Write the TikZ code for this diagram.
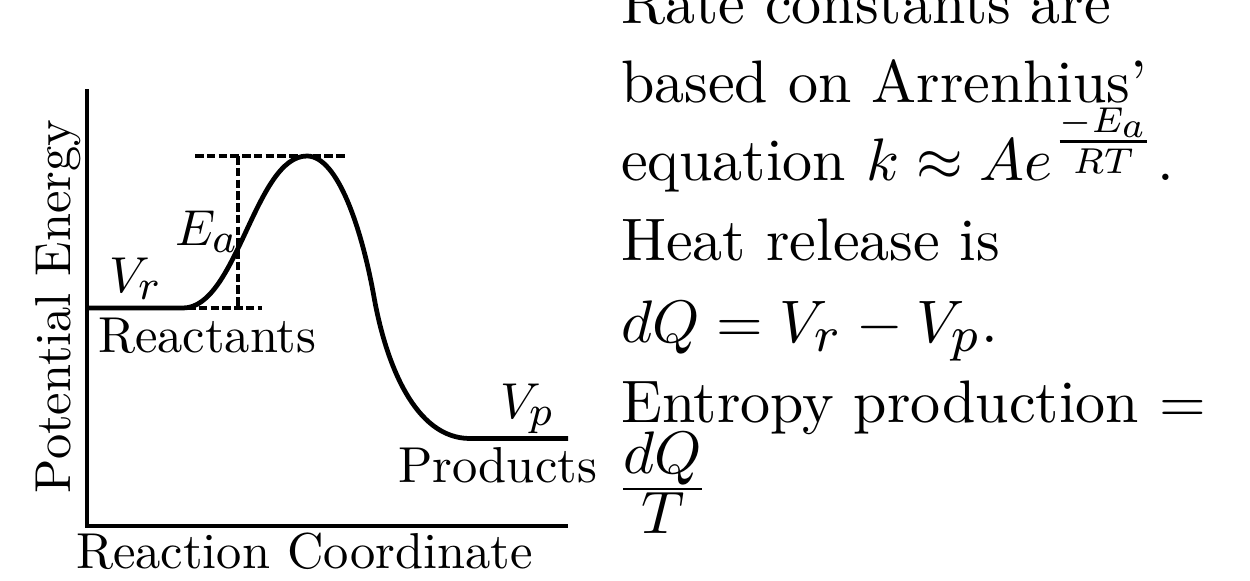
\RequirePackage{fix-cm}
\documentclass[tikz,border=0pt]{standalone}
\DeclareFontShape{OML}{cmm}{m}{it}{<-7.5>cmmi7 <7.5-9.5>cmmi8 <9.5->cmmi10}{\skewchar\font=127}
\DeclareFontShape{OMS}{cmsy}{m}{n}{<-7.5>cmsy7 <7.5-9.5>cmsy8 <9.5->cmsy10}{\skewchar\font=48}
\DeclareMathSizes{10}{10}{8.3}{6}
\begin{document}
\begin{tikzpicture}[x=0.4pt,y=-0.4pt,
  axisline/.style={line width=1.7pt},
  pecurve/.style={line width=1.9pt, line join=round},
  guide/.style={line width=1.8pt, dash pattern=on 3.4pt off 1.3pt},
  lbl/.style={inner sep=0pt, scale=2.02, font=\fontsize{10}{12}\selectfont},
  txt/.style={inner sep=0pt, anchor=base west, scale=2.4, font=\fontsize{10}{12}\selectfont}]
\useasboundingbox (0,0) rectangle (1250,580);
\clip (0,0) rectangle (1250,580);
% axes
\coordinate (ytop) at (87,89);
\coordinate (orig) at (87,526);
\coordinate (xend) at (568,526);
\draw[axisline] (ytop) -- (orig) -- (xend);
% energy curve
\coordinate (r0) at (87,308);
\coordinate (r1) at (183,308);
\coordinate (pk) at (307,156);
\coordinate (inf) at (374,297);
\coordinate (p0) at (470,438.5);
\coordinate (p1) at (568,438.5);
\draw[pecurve] (r0) -- (r1) .. controls (237,308) and (255,156) .. (pk)
  .. controls (338,156) and (362,230) .. (inf)
  .. controls (386,364) and (415,438.5) .. (p0) -- (p1);
% guides
\coordinate (tA) at (195,156);
\coordinate (tB) at (347,156);
\coordinate (vA) at (238,156);
\coordinate (vB) at (238,308);
\coordinate (bA) at (187,308);
\coordinate (bB) at (262,308);
\draw[guide] (tA) -- (tB);
\draw[guide] (vA) -- (vB);
\draw[guide] (bA) -- (bB);
% labels
\node[lbl, anchor=base west] (vr) at (108,292) {$V_r$};
\node[lbl, anchor=base west] (ea) at (174,245) {$E_a$};
\node[lbl, anchor=base west] (react) at (97,352) {Reactants};
\node[lbl, anchor=base west] (vp) at (499,418) {$V_p$};
\node[lbl, anchor=base east] (prod) at (598,482) {Products};
\node[lbl, anchor=base west] (xlab) at (75,568) {Reaction Coordinate};
\node[lbl, anchor=base west, rotate=90] (ylab) at (70,494) {Potential Energy};
% text
\node[txt] (l1) at (620,23) {Rate constants are};
\node[txt] (l2) at (620,102) {based on Arrenhius'};
\node[txt] (l3) at (620,180) {equation $k \approx Ae^{\frac{-E_a}{RT}}$.};
\node[txt] (l4) at (620,260) {Heat release is};
\node[txt] (l5) at (620,342) {$dQ = V_r - V_p$.};
\node[txt] (l6) at (620,422) {Entropy production $=$};
\node[txt] (l7) at (615,504) {$\frac{\textstyle dQ}{\textstyle T}$};
\end{tikzpicture}
\end{document}
